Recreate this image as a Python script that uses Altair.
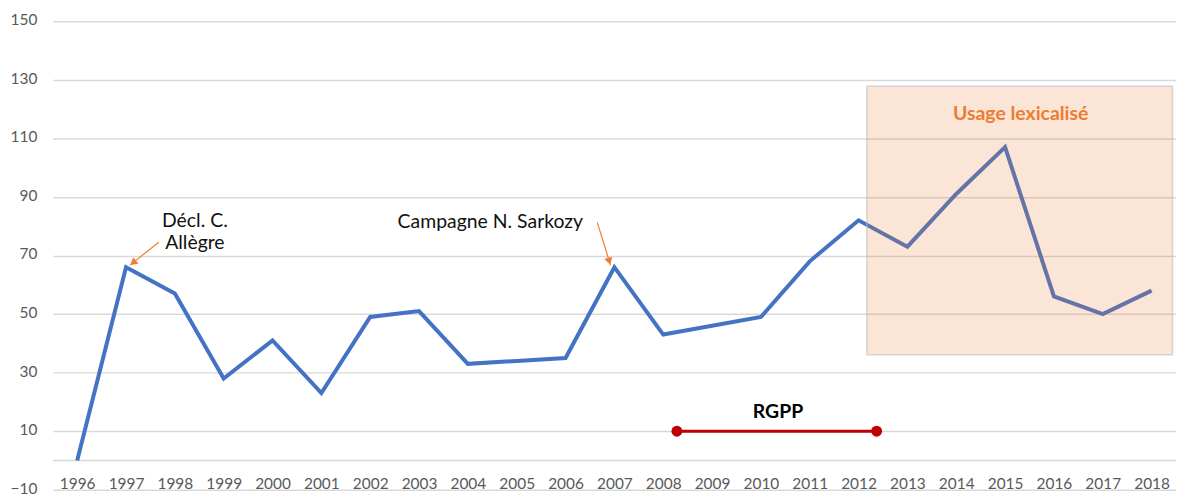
import altair as alt
import pandas as pd
import math

# ---- data ----
years = list(range(1996, 2019))
values = [0, 66, 57, 28, 41, 23, 49, 51, 33, 34, 35, 66, 43, 46, 49, 68, 82, 73, 91, 107, 56, 50, 58]

y_ticks = [-10, 10, 30, 50, 70, 90, 110, 130, 150]

# shaded "usage lexicalisé" zone (data units)
zone_x = [2012.17]
zone_x2 = [2018.43]
zone_y = [36.1]
zone_y2 = [127.8]

# RGPP period
rgpp_x = [2008.28, 2012.37]
rgpp_y = [10, 10]

# annotation texts
ann_text = ["Décl. C.\nAllègre", "Campagne N. Sarkozy"]
ann_x = [1998.41, 2004.46]
ann_y = [81.9, 81.3]

# arrows (start -> tip)
arr_x = [1997.67, 2006.65]
arr_y = [74.5, 81.3]
arr_x2 = [1997.08, 2006.92]
arr_y2 = [66.7, 66.7]

W, H = 1129, 471
XD = [1995.5, 2018.5]
YD = [-10, 150]
px_per_x = W / (XD[1] - XD[0])
px_per_y = H / (YD[1] - YD[0])

heads = []
for x1, y1, x2, y2 in zip(arr_x, arr_y, arr_x2, arr_y2):
    dx = (x2 - x1) * px_per_x
    dy = -(y2 - y1) * px_per_y
    L = math.hypot(dx, dy)
    ux, uy = dx / L, dy / L
    ang = math.degrees(math.atan2(ux, -uy)) % 360
    back = 4.0
    heads.append({"year": x2 - ux * back / px_per_x, "value": y2 + uy * back / px_per_y, "angle": ang})

df = pd.DataFrame({"year": years, "value": values})
zone = pd.DataFrame({"year": zone_x, "x2": zone_x2, "value": zone_y, "y2": zone_y2})
rgpp = pd.DataFrame({"year": rgpp_x, "value": rgpp_y})
ann = pd.DataFrame({"t": ann_text, "year": ann_x, "value": ann_y})
arrows = pd.DataFrame({"year": arr_x, "value": arr_y, "x2": arr_x2, "y2": arr_y2})
heads_df = pd.DataFrame(heads)

FONT = "Lato"
xs = alt.Scale(domain=XD, nice=False, zero=False)
ys = alt.Scale(domain=YD, nice=False, zero=False)

X = alt.X("year:Q", scale=xs, axis=alt.Axis(
    values=years, format="d", grid=False, ticks=False, domain=False, title=None,
    labelFontSize=15.5, labelColor="#595959", labelFont=FONT,
    labelBaseline="middle", labelPadding=-6, labelFlush=False, labelOverlap=False))
Y = alt.Y("value:Q", scale=ys, axis=alt.Axis(
    values=y_ticks, grid=True, gridColor="#D9D9D9", gridWidth=1.5, ticks=False,
    domain=False, title=None, labelFontSize=15.5, labelColor="#595959",
    labelFont=FONT, labelPadding=16, labelFlush=False, labelOffset=-1.5))

zero = alt.Chart(pd.DataFrame({"value": [0]})).mark_rule(color="#D9D9D9", strokeWidth=1.5).encode(y=Y)

line = alt.Chart(df).mark_line(color="#4472C4", strokeWidth=4, strokeJoin="miter").encode(x=X, y=Y)

rect = alt.Chart(zone).mark_rect(fill="#ED7D31", fillOpacity=0.2, stroke="#BFBFBF",
                                 strokeOpacity=0.6, strokeWidth=1.5).encode(
    x=X, x2="x2:Q", y=Y, y2="y2:Q")

rg_line = alt.Chart(rgpp).mark_line(color="#C00000", strokeWidth=3).encode(x=X, y=Y)
rg_pts = alt.Chart(rgpp).mark_circle(color="#C00000", size=120, opacity=1).encode(x=X, y=Y)
rg_txt = alt.Chart(pd.DataFrame({"t": ["RGPP"], "year": [2010.35], "value": [16.4]})).mark_text(
    font=FONT, fontSize=19.5, fontWeight="bold", color="#000000", baseline="middle").encode(
    x=X, y=Y, text="t:N")

zone_txt = alt.Chart(pd.DataFrame({"t": ["Usage lexicalisé"], "year": [2015.32], "value": [118.3]})).mark_text(
    font=FONT, fontSize=19.5, fontWeight="bold", color="#ED7D31", baseline="middle").encode(
    x=X, y=Y, text="t:N")

ann_txt = alt.Chart(ann).mark_text(font=FONT, fontSize=19.5, color="#111111", baseline="middle",
                                   lineBreak="\n", lineHeight=23).encode(x=X, y=Y, text="t:N")

arr_lines = alt.Chart(arrows).mark_rule(color="#ED7D31", strokeWidth=1.2).encode(
    x=X, y=Y, x2="x2:Q", y2="y2:Q")
arr_heads = alt.Chart(heads_df).mark_point(shape="triangle-up", filled=True, color="#ED7D31",
                                           size=70, opacity=1).encode(
    x=X, y=Y, angle=alt.Angle("angle:Q", scale=None))

chart = alt.layer(zero, line, rect, rg_line, rg_pts, rg_txt, zone_txt, ann_txt, arr_lines, arr_heads).properties(
    width=W, height=H,
    autosize=alt.AutoSizeParams(type="none"),
    padding={"left": 45, "top": 12, "right": 0, "bottom": 4},
).configure(background="white").configure_view(stroke=None)

chart.save("out.html", embed_options={"renderer": "svg", "actions": False})
